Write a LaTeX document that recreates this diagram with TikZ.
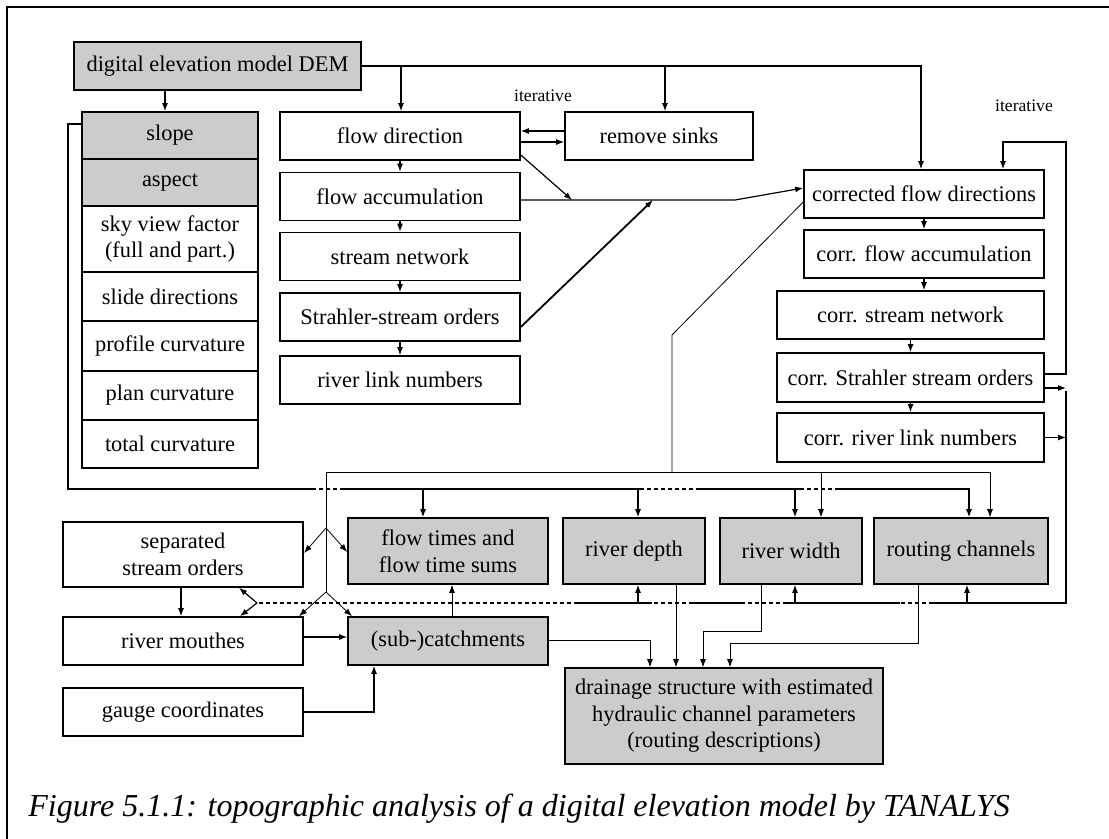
\documentclass[tikz,border=0pt]{standalone}
\usepackage{fontspec}
\setmainfont{Liberation Serif}
\usetikzlibrary{arrows.meta}
\begin{document}
\begin{tikzpicture}[x=0.5pt, y=-0.5pt, >={Latex[length=4pt,width=3pt]},
  every node/.style={font=\fontsize{11.2}{13.3}\selectfont},
  box/.style={draw, line width=0.8pt, align=center, inner sep=1pt},
  grey/.style={box, fill=gray!40},
  link/.style={line width=0.6pt},
  fine/.style={line width=0.4pt},
  gap/.style={line width=0.6pt, dash pattern=on 2pt off 1.5pt}]
\useasboundingbox (0,0) rectangle (1109,839);
% cornice
\draw[line width=1pt] (7,839) -- (7,7) -- (1109,7);
% DEM
\node[grey, minimum width=143.5pt, minimum height=24pt] (dem) at (217.5,66) {digital elevation model DEM};
% colonna sinistra
\node[grey, minimum width=87.75pt, minimum height=23.5pt] (slope) at (170,135.5) {slope};
\node[grey, minimum width=87.75pt, minimum height=23.5pt] (aspect) at (170,182.5) {aspect};
\node[box, minimum width=87.75pt, minimum height=33pt] (sky) at (170,239) {sky view factor\\(full and part.)};
\node[box, minimum width=87.75pt, minimum height=24.5pt] (slide) at (170,296.5) {slide directions};
\node[box, minimum width=87.75pt, minimum height=25pt] (profile) at (170,346) {profile curvature};
\node[box, minimum width=87.75pt, minimum height=24.5pt] (plan) at (170,395.5) {plan curvature};
\node[box, minimum width=87.75pt, minimum height=24pt] (total) at (170,444) {total curvature};
% colonna centrale
\node[box, minimum width=120pt, minimum height=24pt] (fdir) at (400,136) {flow direction};
\node[box, minimum width=120pt, minimum height=24pt] (facc) at (400,196.5) {flow accumulation};
\node[box, minimum width=120pt, minimum height=24pt] (snet) at (400,256.5) {stream network};
\node[box, minimum width=120pt, minimum height=24pt] (strahler) at (400,317) {Strahler-stream orders};
\node[box, minimum width=120pt, minimum height=24pt] (rlink) at (400,380) {river link numbers};
\node[box, minimum width=94pt, minimum height=24pt] (sinks) at (659,136) {remove sinks};
% colonna destra
\node[box, minimum width=120pt, minimum height=24pt] (cfdir) at (924,194) {corrected flow directions};
\node[box, minimum width=120pt, minimum height=24pt] (cfacc) at (924,254) {corr. flow accumulation};
\node[box, minimum width=133.5pt, minimum height=24pt] (csnet) at (910.5,315) {corr. stream network};
\node[box, minimum width=133.5pt, minimum height=24.5pt] (cstrahler) at (910.5,377.5) {corr. Strahler stream orders};
\node[box, minimum width=133.5pt, minimum height=24.5pt] (crlink) at (910.5,437.5) {corr. river link numbers};
\node[font=\fontsize{8.8}{10}\selectfont] (it1) at (543,96) {iterative};
\node[font=\fontsize{8.8}{10}\selectfont] (it2) at (1024,106) {iterative};
% riga in basso
\node[box, minimum width=120.25pt, minimum height=32.5pt] (sso) at (183,554.5) {separated\\stream orders};
\node[grey, minimum width=100pt, minimum height=33pt] (ftimes) at (448,551) {flow times and\\flow time sums};
\node[grey, minimum width=71pt, minimum height=33pt] (rdepth) at (634,551) {river depth};
\node[grey, minimum width=71pt, minimum height=33pt] (rwidth) at (791,551) {river width};
\node[grey, minimum width=87pt, minimum height=33pt] (routing) at (961,551) {routing channels};
\node[box, minimum width=120.25pt, minimum height=24pt] (rmouth) at (183,641) {river mouthes};
\node[grey, minimum width=100pt, minimum height=24pt] (subc) at (448,641) {(sub-)catchments};
\node[box, minimum width=120.25pt, minimum height=24pt] (gauge) at (183,712) {gauge coordinates};
\node[grey, minimum width=159pt, minimum height=48pt] (drain) at (724,716) {drainage structure with estimated\\hydraulic channel parameters\\(routing descriptions)};
% didascalia
\node[anchor=base west, inner sep=0pt, font=\fontsize{16}{19}\selectfont\itshape] (cap) at (28,816) {Figure 5.1.1: topographic analysis of a digital elevation model by TANALYS};
% frecce dal DEM
\draw[->, link] (dem.south -| 165,0) -- (slope.north -| 165,0);
\draw[->, link] (dem.east) -| (cfdir.north -| 921,0);
\draw[->, link] (dem.east -| 401,0) -- (fdir.north -| 401,0);
\draw[->, link] (dem.east -| 665,0) -- (sinks.north -| 665,0);
\draw[->, link] (sinks.west |- 0,131) -- (fdir.east |- 0,131);
\draw[->, link] (fdir.east |- 0,142) -- (sinks.west |- 0,142);
\foreach \a/\b in {fdir/facc, facc/snet, snet/strahler, strahler/rlink,
                   cfdir/cfacc, cfacc/csnet, csnet/cstrahler, cstrahler/crlink}
  \draw[->, link] (\a.south) -- (\b.north -| \a.south);
% verso corrected flow directions
\coordinate (j1) at (572,200);
\coordinate (j2) at (653,200);
\coordinate (kink) at (735,200);
\draw[->, link] (fdir.east |- 0,155) -- (j1);
\draw[->, link] (facc.east |- kink) -- (kink) -- (cfdir.west |- 0,188);
\draw[->, line width=0.9pt] (strahler.east |- 0,327) -- (j2);
\draw[->, link] (cstrahler.east |- 0,374) -| (1066,142) -| (cfdir.north -| 1003,0);
% linea dei parametri
\draw[link] (slope.west |- 0,124) -| (68,489) -- (312,489);
\draw[gap] (312,489) -- (343,489);
\draw[link] (343,489) -- (640,489);
\draw[gap] (640,489) -- (698,489);
\draw[link] (698,489) -- (800,489);
\draw[gap] (800,489) -- (837,489);
\draw[->, link] (837,489) -| (routing.north -| 969,0);
\foreach \x/\n in {423/ftimes, 638/rdepth, 795/rwidth}
  \draw[->, link] (\x,489) -- (\n.north -| \x,0);
% rete corretta
\coordinate (t1) at (326,472);
\draw[fine] (cfdir.west |- 0,202) -- (672,335) -- (672,472);
\draw[->, fine] (t1) -| (routing.north -| 990,0);
\draw[->, fine] (821,472) -- (rwidth.north -| 821,0);
\draw[fine] (t1) -- (326,592);
\draw[->, fine] (326,528) -- (sso.east |- 0,553);
\draw[->, fine] (326,528) -- (ftimes.west |- 0,552);
\draw[->, fine] (326,592) -- (rmouth.north -| 299,0);
\draw[->, fine] (326,592) -- (subc.north -| 352,0);
% ritorno a destra
\draw[->, link] (cstrahler.east |- 0,388) -- (1066,388);
\draw[->, link] (crlink.east) -- (crlink.east -| 1066,0);
\draw[link] (1066,391) -- (1066,603) -- (933,603);
\draw[gap] (933,603) -- (900,603);
\draw[link] (900,603) -- (787,603);
\draw[gap] (787,603) -- (743,603);
\draw[link] (743,603) -- (693,603);
\draw[gap] (693,603) -- (652,603);
\draw[link] (652,603) -- (578,603);
\draw[gap] (578,603) -- (257,603);
\draw[->, link] (257,603) -- (sso.south -| 239,0);
\draw[->, link] (257,603) -- (rmouth.north -| 240,0);
\foreach \x/\n in {638/rdepth, 795/rwidth, 967/routing}
  \draw[->, link] (\x,603) -- (\n.south -| \x,0);
% bacini e struttura
\draw[->, link] (sso.south -| 181,0) -- (rmouth.north -| 181,0);
\draw[->, link] (rmouth.east |- 0,637) -- (subc.west |- 0,637);
\draw[->, link] (gauge.east) -| (subc.south -| 374,0);
\draw[->, fine] (subc.north -| 452,0) -- (ftimes.south -| 452,0);
\draw[->, fine] (subc.east |- 0,640) -| (drain.north -| 650,0);
\draw[->, fine] (rdepth.south -| 676,0) -- (drain.north -| 676,0);
\draw[->, fine] (rwidth.south -| 761,0) |- (703,631) -- (drain.north -| 703,0);
\draw[->, fine] (routing.south -| 918,0) |- (730,643) -- (drain.north -| 730,0);
\end{tikzpicture}
\end{document}
